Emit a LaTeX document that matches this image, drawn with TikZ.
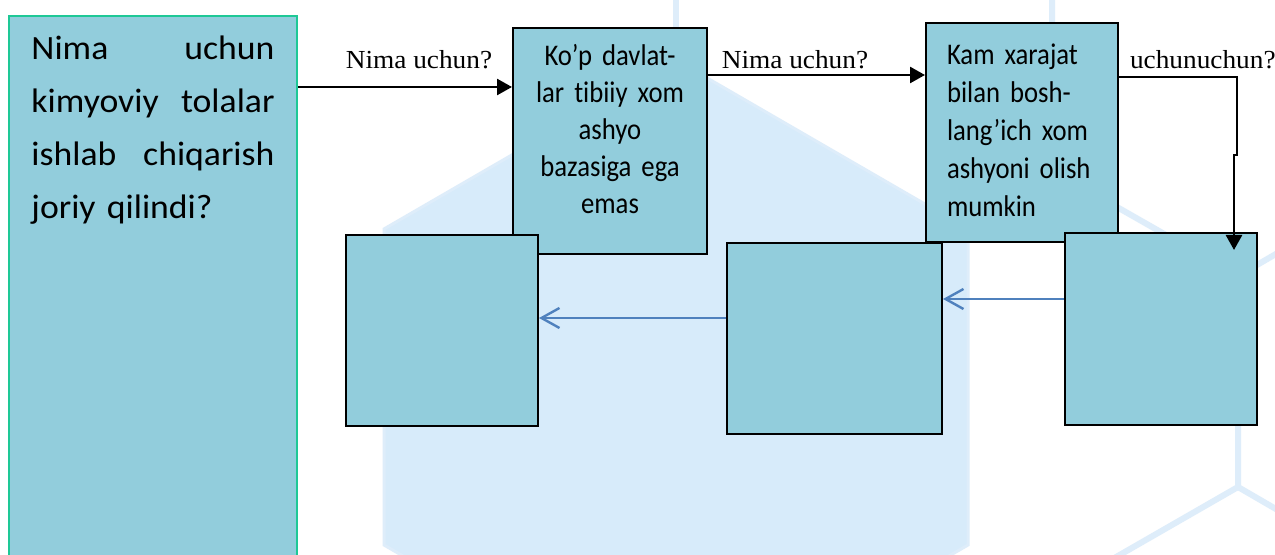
\documentclass[tikz,border=0pt]{standalone}
\usepackage{fontspec}
\usepackage{tikz}
\usetikzlibrary{arrows.meta}
\newfontfamily\kalibri[FakeStretch=0.89,Ligatures=NoCommon,WordSpace=0.8]{Carlito}
\newfontfamily\kattakalibri[FakeStretch=1.05,Ligatures=NoCommon]{Carlito}
\newfontfamily\yozuvfont[FakeStretch=1.05]{Liberation Serif}
\definecolor{qutirang}{RGB}{146,205,220}
\definecolor{yashil}{RGB}{30,200,150}
\definecolor{kokrang}{RGB}{79,129,189}
\definecolor{fonrang}{RGB}{215,235,250}
\definecolor{fonchiziq}{RGB}{222,237,250}

\begin{document}
\begin{tikzpicture}[x=0.5pt,y=-0.5pt,
  quti/.style={draw=black,line width=1pt,fill=qutirang,anchor=north west,inner sep=0pt,
    font=\kalibri\fontsize{15}{18.6}\selectfont},
  savolquti/.style={draw=yashil,line width=1pt,fill=qutirang,anchor=north west,
    text width=121.5pt,inner xsep=11.25pt,inner ysep=10pt,align=left,
    font=\kattakalibri\fontsize{17}{26.5}\selectfont},
  pil/.style={-{Triangle[length=7.5pt,width=8pt]},line width=1.3pt},
  kokpil/.style={-{Straight Barb[length=9pt,width=10pt]},draw=kokrang,line width=1.2pt},
  yorliq/.style={anchor=base,inner sep=0pt,font=\yozuvfont\fontsize{13}{15}\selectfont},
  fonchiz/.style={draw=fonchiziq,line width=3pt}]
 \fill[white] (0,0) rectangle (1275,555);
 \useasboundingbox (0,0) rectangle (1275,555);
 % fon: olti burchak
 \filldraw[fill=fonrang,draw=fonchiziq,line width=1.5pt] (676,60) -- (968,229) -- (968,545) -- (676,714) -- (384,545) -- (384,229) -- cycle;
 \draw[fonchiz] (676,0) -- (676,60);
 \draw[fonchiz] (1052,0) -- (1052,170) -- (1238,276) -- (1238,487) -- (1050,595);
 \draw[fonchiz] (1238,276) -- (1300,240);
 \draw[fonchiz] (1238,487) -- (1300,523);
 % yorliqlar
 \node[yorliq] (y1) at (419,69) {Nima uchun?};
 \node[yorliq] (y2) at (795,69) {Nima uchun?};
 \node[yorliq,anchor=base east] (y3) at (1276,69) {uchunuchun?};
 % qutilar
 \node[savolquti,text depth=243.5pt] (savol) at (8,14.7) {Nima\hfill uchun\\kimyoviy\hfill tolalar\\ishlab\hfill chiqarish\\joriy qilindi?};
 \node[quti,minimum width=97pt,minimum height=113pt,text width=75pt,align=center,text depth=86.5pt] (sabab1) at (512,27) {Ko’p davlat-\\lar tibiiy xom\\ashyo\\bazasiga ega\\emas};
 \node[quti,minimum width=96pt,minimum height=109.5pt,text width=75pt,align=left,text depth=78pt,
   font=\kalibri\fontsize{15}{18.9}\selectfont] (sabab2) at (925,22) {Kam xarajat\\bilan bosh-\\lang’ich xom\\ashyoni olish\\mumkin};
 \node[quti,minimum width=96pt,minimum height=95.5pt] (natija1) at (345,234) {};
 \node[quti,minimum width=107.5pt,minimum height=95.5pt] (natija2) at (726,242) {};
 \node[quti,minimum width=96pt,minimum height=96pt] (natija3) at (1064,232) {};
 % bog'lanishlar
 \coordinate (k1) at (0,87);
 \coordinate (k2) at (0,75);
 \coordinate (k3) at (0,77);
 \coordinate (k4) at (0,299);
 \coordinate (k5) at (0,318);
 \coordinate (burchak) at (1237,77);
 \coordinate (ucha) at (1234,250);
 \draw[pil] (savol.east |- k1) -- (sabab1.west |- k1);
 \draw[pil] (sabab1.east |- k2) -- (sabab2.west |- k2);
 \draw[pil] (sabab2.east |- k3) -- (burchak) -- (1237,155) -- (1234,155) -- (ucha);
 \draw[kokpil] (natija3.west |- k4) -- (natija2.east |- k4);
 \draw[kokpil] (natija2.west |- k5) -- (natija1.east |- k5);
\end{tikzpicture}
\end{document}
